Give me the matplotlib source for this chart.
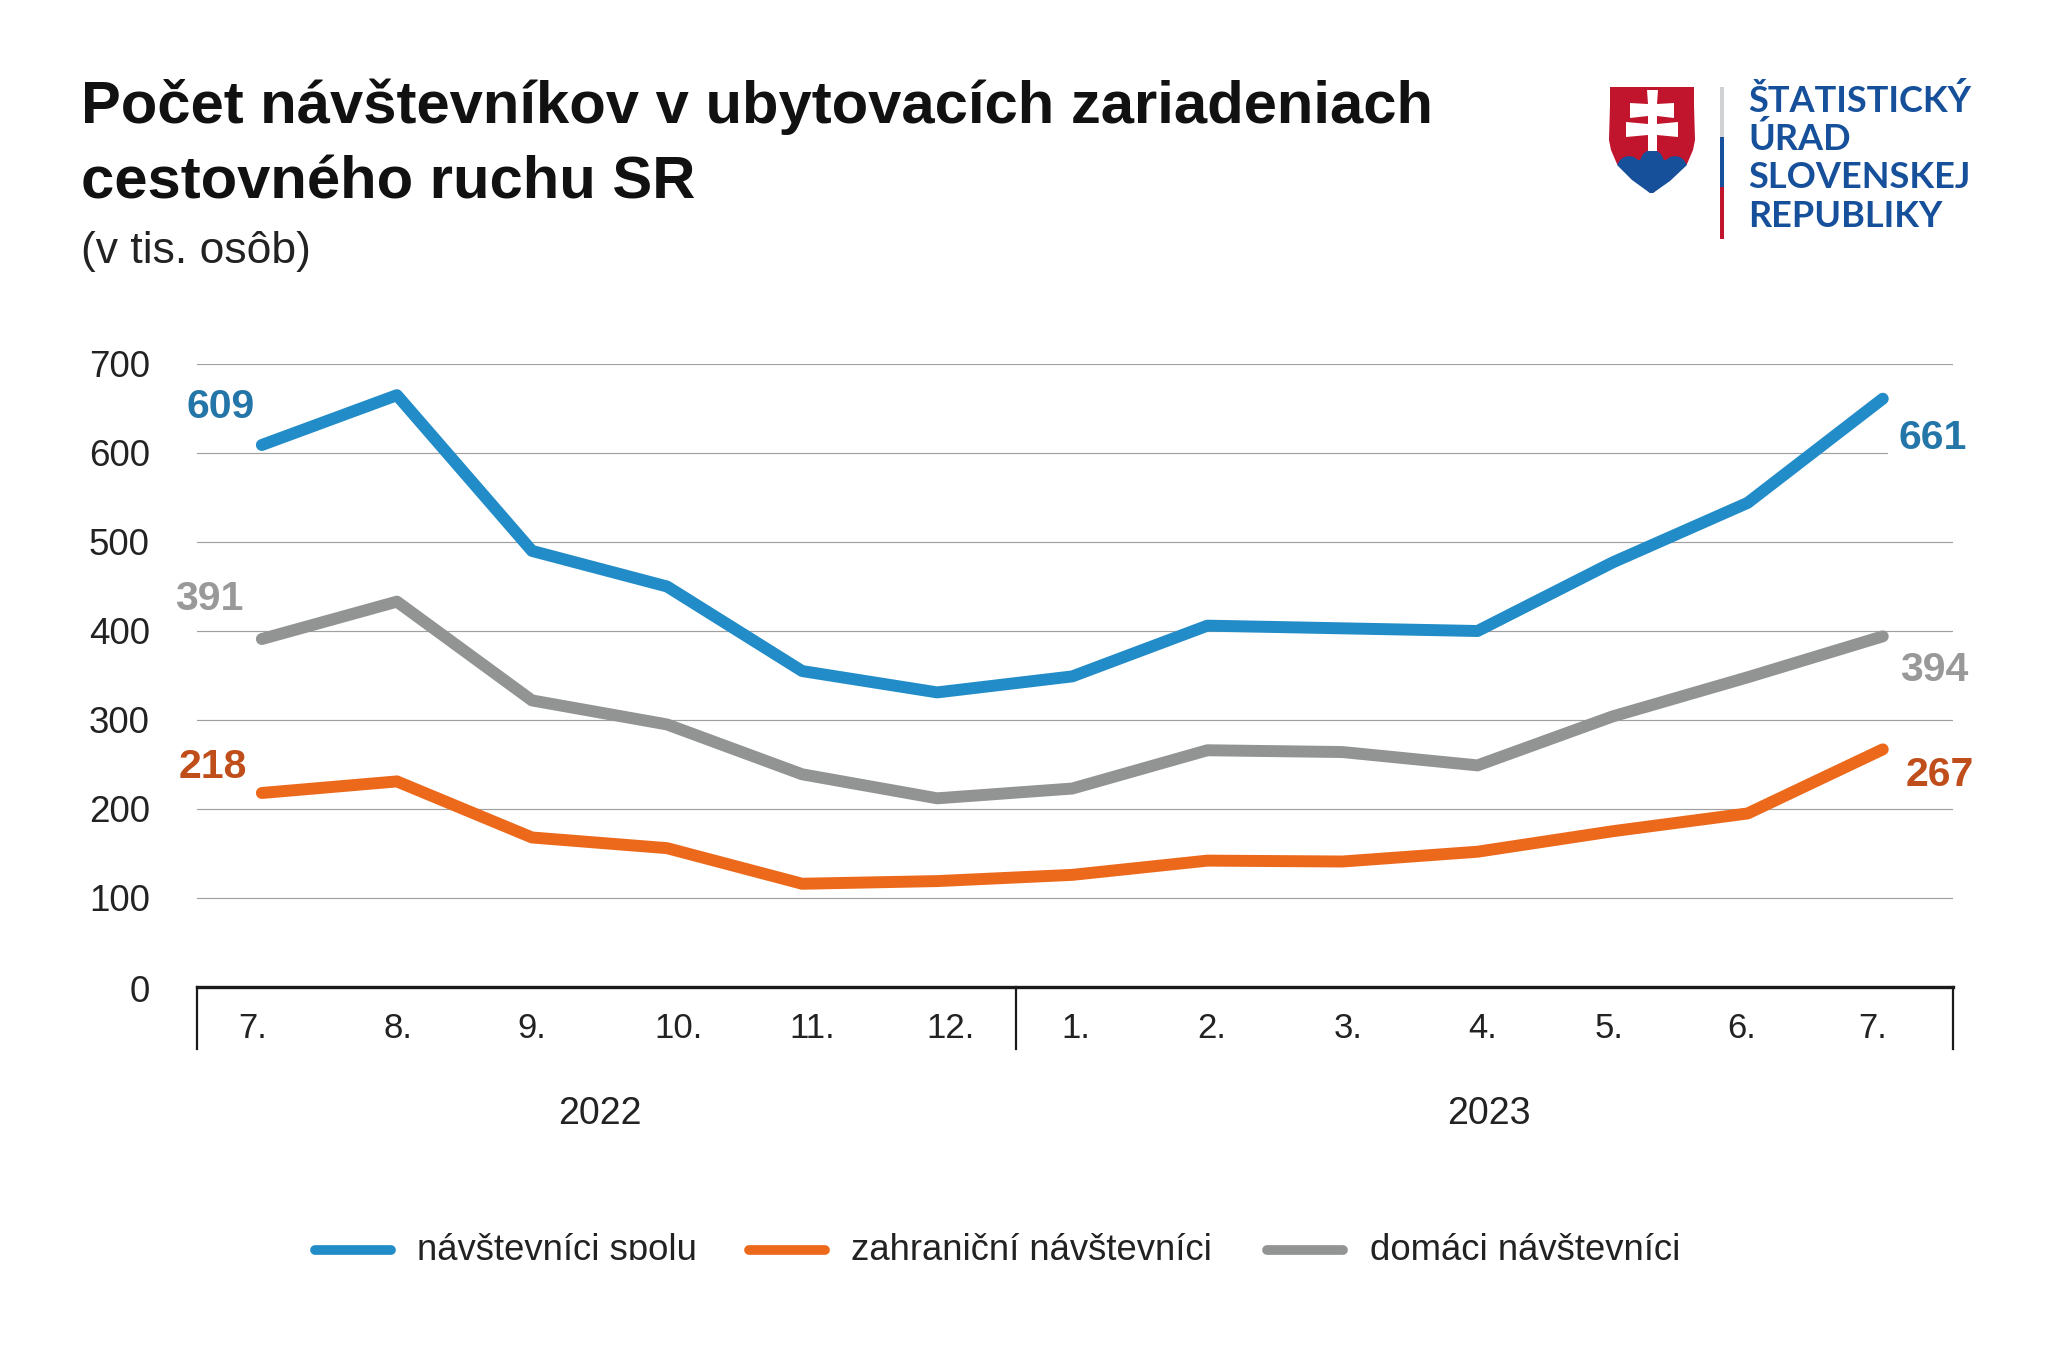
import matplotlib
matplotlib.use("Agg")
import matplotlib.pyplot as plt
from matplotlib.patches import Polygon, Rectangle
from matplotlib.transforms import Bbox

plt.rcParams['font.family'] = ['Liberation Sans', 'DejaVu Sans']

months = ['7.', '8.', '9.', '10.', '11.', '12.', '1.', '2.', '3.', '4.', '5.', '6.', '7.']
years = ['2022', '2023']
total = [609, 665, 490, 450, 355, 331, 349, 406, 403, 400, 477, 544, 661]
foreign = [218, 231, 168, 156, 116, 119, 126, 142, 141, 152, 175, 195, 267]
domestic = [391, 433, 322, 295, 239, 212, 223, 266, 264, 249, 304, 348, 394]
yticks = [0, 100, 200, 300, 400, 500, 600, 700]
series_names = ['návštevníci spolu', 'zahraniční návštevníci', 'domáci návštevníci']

BLUE = '#218CC7'
ORANGE = '#EC691C'
GRAY = '#929494'
TXT = '#222222'
W, H = 2048, 1346

fig = plt.figure(figsize=(20.48, 13.46), dpi=100, facecolor='white')


def fx(p):
    return p / W


def fy(p):
    return 1 - p / H


# plot area in pixels
L, R, T, B = 197, 1953, 364, 987
ax = fig.add_axes([fx(L), fy(B), fx(R - L), (B - T) / H])
ax.set_xlim(-0.48, 12.52)
ax.set_ylim(0, 700)
ax.set_facecolor('none')
ax.set_yticks(yticks[1:])
ax.yaxis.grid(True, color='#A0A0A0', lw=0.85)
ax.set_axisbelow(True)
for s in ['top', 'left', 'right']:
    ax.spines[s].set_visible(False)
ax.spines['bottom'].set_linewidth(2.4)
ax.spines['bottom'].set_color('#1a1a1a')
ax.tick_params(axis='both', length=0)
ax.set_yticklabels([])
ax.set_xticks([])

xs = list(range(len(months)))
for vals, col in [(total, BLUE), (domestic, GRAY), (foreign, ORANGE)]:
    ax.plot(xs, vals, color=col, lw=8.6, solid_capstyle='round', solid_joinstyle='round', zorder=3)

# y tick labels
for v in yticks:
    ax.annotate(str(v), (0, v), xycoords=('axes fraction', 'data'), xytext=(-34, -4 if v == 0 else -2.5),
                textcoords='offset points', ha='right', va='center', fontsize=26.5, color=TXT)

# month labels (horizontally nudged in the source) and group separators
nudge = [-7, 1, 0, 9, 8, 10, 3, 3, 4, 4, -3, -5, -8]
for x0, lab, n in zip(xs, months, nudge):
    ax.annotate(lab, (x0, 0), xycoords='data', xytext=(n * 0.94, -30),
                textcoords='offset points', ha='center', va='center', fontsize=25, color=TXT)
for px_x in [L, 1016, R]:
    fig.add_artist(plt.Line2D([fx(px_x)] * 2, [fy(B), fy(1049)], color='#1a1a1a', lw=1.6))

fig.text(fx(600), fy(1114), years[0], ha='center', va='center', fontsize=27, color=TXT)
fig.text(fx(1489), fy(1114), years[1], ha='center', va='center', fontsize=27, color=TXT)

# data labels
lab_kw = dict(xycoords='data', textcoords='offset points', ha='center', va='center',
              fontsize=29.5, fontweight='bold', zorder=5)
LBLUE, LGRAY, LRED = '#2576A8', '#999999', '#C04E1B'
ax.annotate(str(total[0]), (0, total[0]), xytext=(-30, 27), color=LBLUE, **lab_kw)
ax.annotate(str(total[-1]), (12, total[-1]), xytext=(36, -28), color=LBLUE,
            bbox=dict(boxstyle='square,pad=0.25', fc='white', ec='none'), **lab_kw)
ax.annotate(str(domestic[0]), (0, domestic[0]), xytext=(-38, 29), color=LGRAY, **lab_kw)
ax.annotate(str(domestic[-1]), (12, domestic[-1]), xytext=(37, -24), color=LGRAY, **lab_kw)
ax.annotate(str(foreign[0]), (0, foreign[0]), xytext=(-35, 18.5), color=LRED, **lab_kw)
ax.annotate(str(foreign[-1]), (12, foreign[-1]), xytext=(41, -18.5), color=LRED, **lab_kw)

# title
fig.text(fx(81), fy(107), 'Počet návštevníkov v ubytovacích zariadeniach', fontsize=43, fontweight='bold',
         color='#111111', va='center', ha='left')
fig.text(fx(81), fy(183), 'cestovného ruchu SR', fontsize=43, fontweight='bold',
         color='#111111', va='center', ha='left')
fig.text(fx(81), fy(252), '(v tis. osôb)', fontsize=32, color='#222222', va='center', ha='left')

# legend, clipped at the bottom as in the source
clip = Bbox.from_extents(0, H - 1260, W, H)
leg = [(315, 391, 417, BLUE), (749, 825, 851, ORANGE), (1267, 1343, 1370, GRAY)]
for (x0, x1, tx, col), name in zip(leg, series_names):
    fig.add_artist(plt.Line2D([fx(x0), fx(x1)], [fy(1250)] * 2, color=col, lw=7, solid_capstyle='round'))
    t = fig.text(fx(tx), fy(1250), name, fontsize=26.3, color=TXT, va='center', ha='left')
    t.set_clip_box(clip)
    t.set_clip_on(True)

# logo
RED = '#C1142D'
NAVY = '#17509A'


def logo(pts):
    return [(fx(1560 + x), fy(60 + y)) for x, y in pts]


shield = [(50, 27), (134, 27), (134, 45), (135, 80), (133, 90), (127, 104), (93, 133),
          (90, 133), (57, 104), (51, 90), (49, 80), (50, 45)]
fig.add_artist(Polygon(logo(shield), closed=True, fc=RED, ec='none', transform=fig.transFigure))
hill = [(57, 105), (60, 100), (64, 97), (69, 96), (74, 97), (78, 100), (80, 100), (83, 94), (87, 91), (92, 90),
        (97, 91), (101, 94), (104, 100), (106, 100), (110, 97), (115, 96), (120, 97), (124, 100), (127, 105),
        (110, 121), (93, 133), (90, 133), (72, 120)]
fig.add_artist(Polygon(logo(hill), closed=True, fc=NAVY, ec='none', transform=fig.transFigure))
cross = [(87, 30), (98, 30), (97, 44), (114, 43), (114, 58), (97, 56), (97, 64), (118, 62), (118, 77),
         (97, 75), (97, 91), (88, 91), (88, 75), (66, 77), (66, 62), (88, 64), (88, 56), (70, 58), (70, 43), (88, 44)]
fig.add_artist(Polygon(logo(cross), closed=True, fc='white', ec='none', transform=fig.transFigure))
for y0, y1, c in [(87, 137, '#CFD1D3'), (137, 187, NAVY), (187, 239, RED)]:
    fig.add_artist(Rectangle((fx(1720), fy(y1)), 4 / W, (y1 - y0) / H, fc=c, ec='none',
                             transform=fig.transFigure))
for i, line in enumerate(['ŠTATISTICKÝ', 'ÚRAD', 'SLOVENSKEJ', 'REPUBLIKY']):
    fig.text(fx(1748), fy(101 + 38.5 * i), line, fontsize=26, color=NAVY, family='Lato', fontweight='bold',
             va='center', ha='left')

fig.savefig('out.png', dpi=100, facecolor='white')
